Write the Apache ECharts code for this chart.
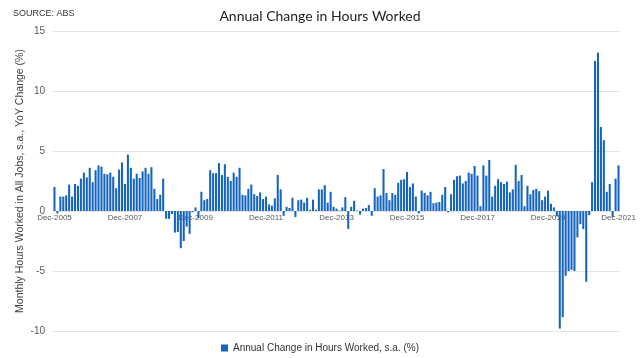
<!DOCTYPE html>
<html>
<head>
<meta charset="utf-8">
<script src="https://cdn.jsdelivr.net/npm/echarts@6/dist/echarts.min.js"></script>
<style>
html,body{margin:0;padding:0;background:#fff;}
#chart{width:640px;height:358px;}
</style>
</head>
<body>
<div id="chart"></div>
<script>
// Monthly categories Dec-2005 .. Dec-2021
const startYear = 2005, startMonth = 11, monthCount = 193;
const monthNames = ['Jan','Feb','Mar','Apr','May','Jun','Jul','Aug','Sep','Oct','Nov','Dec'];
const categories = [];
for (let i = 0; i < monthCount; i++) {
  const m = (startMonth + i) % 12;
  const y = startYear + Math.floor((startMonth + i) / 12);
  categories.push(monthNames[m] + '-' + y);
}

const values2006_2009 = [
  2.0, -0.2, 1.2, 1.2, 1.3, 2.2, 1.2, 2.25, 2.1, 2.7, 3.2, 2.8, 3.6,
  2.4, 3.4, 3.8, 3.7, 3.1, 3.05, 3.2, 2.85, 1.9, 3.45, 4.05, 2.25,
  4.7, 3.6, 2.7, 3.1, 2.75, 3.3, 3.6, 3.1, 3.65, 1.85, 1.0, 1.35,
  2.7, -0.65, -0.65, -0.25, -1.8, -1.75, -3.1, -2.5, -1.3, -1.9, -0.1, 0.3
];
const values2010_2013 = [
  -0.6, 1.6, 0.9, 1.0, 3.4, 3.15, 3.15, 4.0, 3.0, 3.9, 2.85, 2.5,
  3.2, 2.85, 3.6, 1.35, 1.3, 1.85, 2.2, 1.4, 1.25, 1.55, 1.0, 1.2,
  0.55, 0.45, 1.05, 3.0, 1.8, -0.4, 0.35, 0.25, 1.1, -0.5, 0.9, 0.95,
  0.7, 1.1, 0.1, 0.95, 0.1, 1.8, 1.8, 2.15, 0.7, 1.6, 0.35, 0.2
];
const values2014_2017 = [
  0.05, 0.3, 1.15, -1.5, 0.35, 0.85, 0.05, -0.3, 0.2, 0.25, 0.5, -0.4,
  1.9, 1.2, 1.3, 3.5, 1.5, 0.9, 1.5, 1.35, 2.35, 2.6, 2.65, 3.25,
  2.0, 2.3, 1.2, -0.2, 1.7, 1.5, 1.3, 1.6, 0.65, 0.7, 0.75, 1.35,
  2.0, -0.1, 1.4, 2.6, 2.9, 2.95, 2.3, 2.5, 3.2, 3.1, 3.75, 2.95
];
const values2018_2021 = [
  0.4, 3.8, 2.95, 4.25, 1.2, 2.1, 2.65, 2.4, 2.25, 2.45, 1.55, 1.8,
  3.85, 2.5, 3.0, 0.4, 2.1, 1.4, 1.75, 1.85, 1.65, 0.9, 1.2, 1.7,
  0.6, 0.3, -0.45, -9.8, -8.85, -5.4, -5.0, -4.9, -5.0, -2.2, -1.1, -1.5,
  -5.9, -0.35, 2.4, 12.5, 13.2, 7.0, 5.9, 1.6, 2.25, -0.5, 2.7, 3.8
];
const seriesValues = [].concat(values2006_2009, values2010_2013, values2014_2017, values2018_2021);

const yTicks = { min: -10, max: 15, interval: 5 };
const seriesName = 'Annual Change in Hours Worked, s.a. (%)';

const gridBox = { left: 53, right: 20, top: 31, bottom: 27 };
const plotHeight = 358 - gridBox.top - gridBox.bottom;
// move the category labels up to the zero line of the value axis
const zeroOffset = -plotHeight * (0 - yTicks.min) / (yTicks.max - yTicks.min);

const chart = echarts.init(document.getElementById('chart'), null, { renderer: 'canvas' });
chart.setOption({
  animation: false,
  backgroundColor: '#ffffff',
  title: [
    {
      text: 'Annual Change in Hours Worked',
      left: 'center', top: 4,
      textStyle: { fontFamily: 'Lato', fontSize: 14, fontWeight: 'normal', color: '#222' }
    },
    {
      text: 'SOURCE: ABS',
      left: 8, top: 4,
      textStyle: { fontFamily: 'Liberation Sans', fontSize: 9, fontWeight: 'normal', color: '#333' }
    }
  ],
  legend: {
    bottom: 0, left: 'center',
    icon: 'rect', itemWidth: 7, itemHeight: 7, itemGap: 4,
    textStyle: { fontFamily: 'Liberation Sans', fontSize: 10, color: '#333' },
    data: [seriesName]
  },
  grid: Object.assign({ containLabel: false }, gridBox),
  xAxis: {
    type: 'category',
    data: categories,
    boundaryGap: true,
    offset: zeroOffset,
    z: 0,
    axisLine: { show: false, onZero: false },
    axisTick: { show: false },
    axisLabel: {
      interval: 23, fontFamily: 'Liberation Sans', fontSize: 8, color: '#595959', margin: 3
    },
    splitLine: { show: false }
  },
  yAxis: {
    type: 'value',
    min: yTicks.min, max: yTicks.max, interval: yTicks.interval,
    name: 'Monthly Hours Worked in All Jobs, s.a., YoY Change (%)',
    nameLocation: 'middle', nameGap: 27, nameMoveOverlap: false,
    nameTextStyle: { fontFamily: 'Liberation Sans', fontSize: 10.5, color: '#404040' },
    axisLine: { show: false },
    axisTick: { show: false },
    axisLabel: { fontFamily: 'Liberation Sans', fontSize: 10, color: '#595959', margin: 8 },
    splitLine: { lineStyle: { color: '#e3e3e3', width: 1 } }
  },
  series: [{
    name: seriesName,
    type: 'bar',
    z: 5,
    data: seriesValues,
    barCategoryGap: '30%',
    itemStyle: { color: '#1565c0' }
  }]
});
</script>
</body>
</html>
